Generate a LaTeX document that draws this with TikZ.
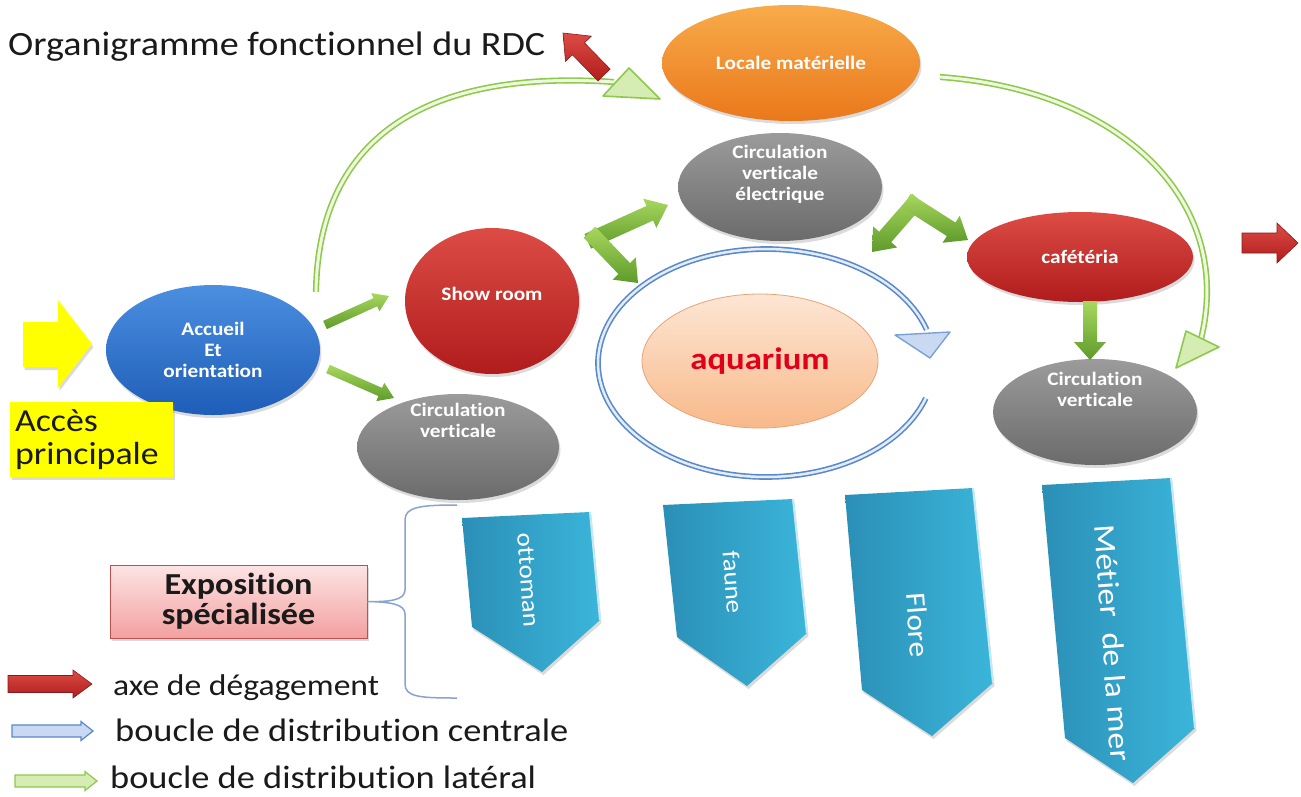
\documentclass[tikz,border=0pt]{standalone}
\usepackage{fontspec}
\setmainfont{Carlito}[FakeStretch=1.12,Ligatures=NoCommon]
\usetikzlibrary{shapes.geometric,calc,shadows}
\definecolor{accTop}{HTML}{4B8FE0}\definecolor{accBot}{HTML}{1E5DB8}
\definecolor{redTop}{HTML}{DC4C45}\definecolor{redBot}{HTML}{B01C1C}
\definecolor{grayTop}{HTML}{9B9B9B}\definecolor{grayBot}{HTML}{6B6B6B}
\definecolor{orTop}{HTML}{F8AB4A}\definecolor{orBot}{HTML}{EA781B}
\definecolor{aqTop}{HTML}{FDE6D4}\definecolor{aqBot}{HTML}{F8B98A}\definecolor{aqLine}{HTML}{E8A478}
\definecolor{grnTop}{HTML}{A8D75E}\definecolor{grnBot}{HTML}{5E9B2B}
\definecolor{latLine}{HTML}{8FC84E}\definecolor{latFill}{HTML}{EEF8DC}\definecolor{latHead}{HTML}{D5EDB2}
\definecolor{loopLine}{HTML}{5A88CC}\definecolor{loopFill}{HTML}{E3ECF9}\definecolor{loopHead}{HTML}{C9D9F2}
\definecolor{pentL}{HTML}{2B8FB6}\definecolor{pentR}{HTML}{3BB5DA}
\definecolor{yel}{HTML}{FFFF00}
\definecolor{pinkTop}{HTML}{FDE4E4}\definecolor{pinkBot}{HTML}{F3A0A0}\definecolor{pinkLine}{HTML}{C0504D}
\definecolor{braceC}{HTML}{8AA2CF}
\definecolor{darkRed}{HTML}{8A1A1A}
\definecolor{txtC}{HTML}{1A1A1A}
\definecolor{aqText}{HTML}{E0001B}
% block arrow: style, from, to, half shaft, half head, head length
\newcommand\barrow[6]{%
  \path (#2) coordinate (ba-s) (#3) coordinate (ba-t);
  \path ($(ba-t)!#6!(ba-s)$) coordinate (ba-h);
  \path[#1] ($(ba-s)!#4!90:(ba-h)$) -- ($(ba-h)!#4!-90:(ba-s)$) -- ($(ba-h)!#5!-90:(ba-s)$)
    -- (ba-t) -- ($(ba-h)!#5!90:(ba-s)$) -- ($(ba-h)!#4!90:(ba-s)$) -- ($(ba-s)!#4!-90:(ba-h)$) -- cycle;
}
\begin{document}
\begin{tikzpicture}[x=1pt,y=-1pt,
  nodefont/.style={font=\fontsize{19}{21}\selectfont\bfseries},
  shad/.style={drop shadow={opacity=0.28,shadow xshift=1.5pt,shadow yshift=-3pt}},
  ell/.style={ellipse,inner sep=0pt,text=white,align=center,nodefont,shad},
  ctext/.style={text=white,align=center,nodefont,inner sep=0pt},
  bluefill/.style={top color=accTop,bottom color=accBot},
  redfill/.style={top color=redTop,bottom color=redBot},
  grayfill/.style={top color=grayTop,bottom color=grayBot},
  orfill/.style={top color=orTop,bottom color=orBot},
  grnarrow/.style={top color=grnTop,bottom color=grnBot},
  redarrow/.style={top color=redTop,bottom color=redBot,draw=darkRed,line width=0.6pt},
  latcurve/.style={draw=latLine,double=latFill,line width=1.6pt,double distance=3pt},
  lathead/.style={fill=latHead,draw=latLine,line width=1.6pt,line join=round},
  loopcurve/.style={draw=loopLine,double=loopFill,line width=1.6pt,double distance=2.5pt},
  loophead/.style={fill=loopHead,draw=loopLine!80,line width=1.4pt,line join=round},
  pent/.style={left color=pentL,right color=pentR,shad},
  penttext/.style={text=white,font=\fontsize{24}{26}\selectfont,inner sep=0pt},
  legtext/.style={text=txtC,anchor=base west,inner sep=0pt},
  bracestyle/.style={draw=braceC,line width=1.5pt}
]
\useasboundingbox (0,0) rectangle (1301,796);
\fill[white] (0,0) rectangle (1301,796);

% title
\node[legtext,font=\fontsize{34}{36}\selectfont] (title) at (8,55) {Organigramme fonctionnel du RDC};

% lateral loops (green)
\coordinate (latAs) at (316,292);
\coordinate (latAe) at (614,82);
\coordinate (latBs) at (940,77);
\coordinate (latBe) at (1201,339);
\draw[latcurve] (latAs) .. controls (318,150) and (410,68) .. (latAe);
\filldraw[lathead] (603,96) -- (660,99) -- (629,68) -- cycle;
\draw[latcurve] (latBs) .. controls (1120,90) and (1235,200) .. (latBe);
\filldraw[lathead] (1186,331) -- (1219,347) -- (1176,368) -- cycle;

% central loop (blue)
\draw[loopcurve] plot[domain=18:343,samples=120] ({766+168*cos(\x)},{363+114*sin(\x)});
\filldraw[loophead] (895,335) -- (950,332) -- (930,358) -- cycle;

% ellipses
\node[ell,orfill,minimum width=258pt,minimum height=116pt] (locale) at (791,63) {Locale matérielle};
\node[ell,grayfill,minimum width=204pt,minimum height=108pt] (cve) at (780,187) {};
\node[ctext] (cvetxt) at (780,174) {Circulation\\verticale\\électrique};
\node[ell,redfill,minimum width=174pt,minimum height=146pt] (show) at (492,301) {};
\node[ctext] (showtxt) at (492,294) {Show room};
\node[ell,bluefill,minimum width=214pt,minimum height=130pt] (accueil) at (213,350) {Accueil\\Et\\orientation};
\node[ell,grayfill,minimum width=202pt,minimum height=106pt] (cvl) at (458,447) {};
\node[ctext] (cvltxt) at (458,420) {Circulation\\verticale};
\node[ell,redfill,minimum width=226pt,minimum height=90pt] (cafe) at (1080,257) {cafétéria};
\node[ell,grayfill,minimum width=204pt,minimum height=106pt] (cvr) at (1095,412) {};
\node[ctext] (cvrtxt) at (1095,389) {Circulation\\verticale};
\node[ellipse,inner sep=0pt,top color=aqTop,bottom color=aqBot,draw=aqLine,line width=0.8pt,
      minimum width=236pt,minimum height=134pt,text=aqText,font=\fontsize{31}{33}\selectfont\bfseries] (aqua) at (760,361) {aquarium};

% green connectors
\coordinate (g1s) at (325,325); \coordinate (g1t) at (389,296);
\coordinate (g2s) at (328,369); \coordinate (g2t) at (394,398);
\barrow{grnarrow}{g1s}{g1t}{4.5pt}{10pt}{15pt}
\barrow{grnarrow}{g2s}{g2t}{4.5pt}{10pt}{15pt}
\coordinate (g3s) at (1090,301); \coordinate (g3t) at (1090,360);
\barrow{grnarrow}{g3s}{g3t}{7pt}{16pt}{18pt}
% bent double arrows
\coordinate (L1c) at (595,238); \coordinate (L1a) at (668,205); \coordinate (L1b) at (638,283);
\barrow{grnarrow}{$(L1c)!-8pt!(L1a)$}{L1a}{8pt}{16pt}{20pt}
\barrow{grnarrow}{$(L1c)!-8pt!(L1b)$}{L1b}{8pt}{16pt}{20pt}
\coordinate (L2c) at (913,205); \coordinate (L2a) at (872,252); \coordinate (L2b) at (968,240);
\barrow{grnarrow}{$(L2c)!-8pt!(L2a)$}{L2a}{8pt}{16pt}{20pt}
\barrow{grnarrow}{$(L2c)!-8pt!(L2b)$}{L2b}{8pt}{16pt}{20pt}

% red exit arrows
\coordinate (r1s) at (604,75); \coordinate (r1t) at (563,33);
\barrow{redarrow}{r1s}{r1t}{8.5pt}{18pt}{22pt}
\coordinate (r2s) at (1242,243); \coordinate (r2t) at (1298,243);
\barrow{redarrow}{r2s}{r2t}{10pt}{20pt}{21pt}

% main entrance
\path[fill=yel,shad] (23,322) -- (58,322) -- (58,300) -- (92,344) -- (58,388) -- (58,367) -- (23,367) -- cycle;
\node[fill=yel,shad,minimum width=163pt,minimum height=75pt,text width=153pt,inner xsep=5pt,align=left,
      text=txtC,font=\fontsize{32}{33}\selectfont] (acces) at (91.5,439.5) {Accès\\principale};

% exhibition
\node[top color=pinkTop,bottom color=pinkBot,draw=pinkLine,line width=0.8pt,shad,minimum width=257pt,minimum height=73pt,
      align=center,text=txtC,font=\fontsize{30.5}{30}\selectfont\bfseries] (expo) at (238.5,601.5) {Exposition\\spécialisée};
\draw[bracestyle] (457,505) .. controls (420,505) and (405,507) .. (405,520) -- (405,590)
   .. controls (405,600) and (390,602) .. (expo.east) .. controls (390,602) and (405,604) .. (405,614)
   -- (405,684) .. controls (405,697) and (420,698) .. (457,698);

% pentagons
\path[pent] (462,518) -- (590,512) -- (600,620) -- (542,672) -- (472,627) -- cycle;
\path[pent] (663,505) -- (793,499) -- (807,633) -- (747,686) -- (677,637) -- cycle;
\path[pent] (845,495) -- (973,488) -- (993,683) -- (932,736) -- (862,690) -- cycle;
\path[pent] (1042,485) -- (1171,478) -- (1195,728) -- (1133,783) -- (1065,738) -- cycle;
\draw[white!70!pentR,line width=2pt] (590,512) -- (600,620) (793,499) -- (807,633) (973,488) -- (993,683) (1171,478) -- (1195,728);
\node[penttext,rotate=-86] (ottoman) at (528,580) {ottoman};
\node[penttext,rotate=-86] (faune) at (733,582) {faune};
\node[penttext,rotate=-86,font=\fontsize{28}{30}\selectfont] (flore) at (918,625) {Flore};
\node[penttext,rotate=-86,font=\fontsize{30}{32}\selectfont] (metier) at (1113,643) {Métier\ \ de la mer};

% legend
\coordinate (l1s) at (8,684); \coordinate (l1t) at (92,684);
\barrow{redarrow}{l1s}{l1t}{8.5pt}{14pt}{19pt}
\coordinate (l2s) at (12,731); \coordinate (l2t) at (93,731);
\barrow{fill=loopHead,draw=loopLine,line width=1.2pt}{l2s}{l2t}{6pt}{9.5pt}{12pt}
\coordinate (l3s) at (15,781); \coordinate (l3t) at (97,781);
\barrow{fill=latHead,draw=latLine,line width=1.2pt}{l3s}{l3t}{6pt}{9.5pt}{12pt}
\node[legtext,font=\fontsize{30}{32}\selectfont] (leg1) at (113,695) {axe de dégagement};
\node[legtext,font=\fontsize{32.5}{34}\selectfont] (leg2) at (115,741) {boucle de distribution centrale};
\node[legtext,font=\fontsize{32.5}{34}\selectfont] (leg3) at (110,788) {boucle de distribution latéral};
\end{tikzpicture}
\end{document}
